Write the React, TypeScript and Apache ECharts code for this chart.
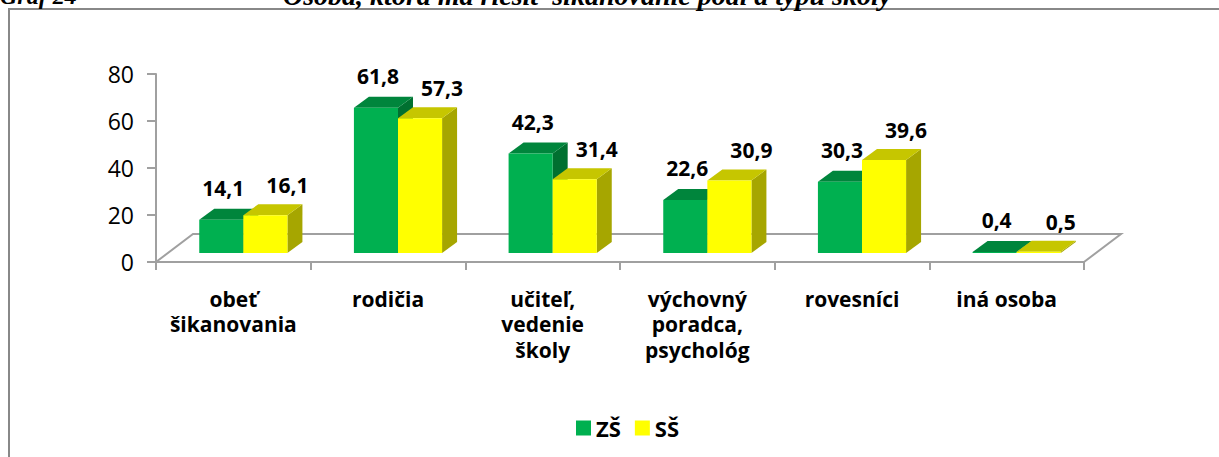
import React, { useEffect, useRef } from "react";
import * as echarts from "echarts";

const categories = [
  "obeť\nšikanovania",
  "rodičia",
  "učiteľ,\nvedenie\nškoly",
  "výchovný\nporadca,\npsychológ",
  "rovesníci",
  "iná osoba",
];
const seriesNames = ["ZŠ", "SŠ"];
const zsValues = [14.1, 61.8, 42.3, 22.6, 30.3, 0.4];
const ssValues = [16.1, 57.3, 31.4, 30.9, 39.6, 0.5];
const yMin = 0;
const yMax = 80;
const yInterval = 20;

const FONT = "'Open Sans', 'Noto Sans', sans-serif";
const GRAY = "#A0A0A0";

const palettes = [
  { front: "#00B050", top: "#00853C", side: "#007030" },
  { front: "#FFFF00", top: "#C6C600", side: "#A6A600" },
];

function makeBarRender(pos: number) {
  const pal = palettes[pos];
  return (params: any, api: any) => {
    const i = api.value(0);
    const v = api.value(1);
    const base = api.coord([i, 0]);
    const top = api.coord([i, v]);
    const bandW = api.size([1, 0])[0];
    const barW = bandW * 0.285;
    const pdx = 10, pdy = -9; // bar plane offset inside floor depth
    const ddx = 15, ddy = -11; // bar depth
    const xl = base[0] + pdx + (pos === 0 ? -barW : 0);
    const xr = xl + barW;
    const yb = base[1] + pdy;
    const yt = top[1] + pdy;
    const label = v.toFixed(1).replace(".", ",");
    return {
      type: "group",
      children: [
        {
          type: "polygon",
          shape: { points: [[xr, yt], [xr + ddx, yt + ddy], [xr + ddx, yb + ddy], [xr, yb]] },
          style: { fill: pal.side },
        },
        {
          type: "polygon",
          shape: { points: [[xl, yt], [xr, yt], [xr + ddx, yt + ddy], [xl + ddx, yt + ddy]] },
          style: { fill: pal.top },
        },
        {
          type: "rect",
          shape: { x: xl, y: yt, width: barW, height: Math.max(yb - yt, 0) },
          style: { fill: pal.front },
        },
        {
          type: "text",
          x: (xl + xr) / 2 + (pos === 0 ? 2 : 22),
          y: yt - (pos === 0 ? 32 : 30),
          style: {
            text: label,
            fontFamily: FONT,
            fontWeight: "bold",
            fontSize: 21,
            fill: "#000",
            align: "center",
            verticalAlign: "middle",
          },
        },
      ],
    };
  };
}

function floorRender(params: any) {
  const cs = params.coordSys;
  const x0 = cs.x;
  const x1 = cs.x + cs.width;
  const y0 = cs.y + cs.height;
  const dx = 37, dy = -28;
  return {
    type: "polyline",
    shape: { points: [[x0, y0], [x0 + dx, y0 + dy], [x1 + dx, y0 + dy], [x1, y0]] },
    style: { stroke: GRAY, lineWidth: 2, fill: "none" },
  };
}

export default function App() {
  const ref = useRef<HTMLDivElement>(null);
  useEffect(() => {
    if (!ref.current) return;
    const chart = echarts.init(ref.current, null, { renderer: "svg" });
    const seriesData = [zsValues, ssValues];
    chart.setOption({
      animation: false,
      backgroundColor: "#fff",
      grid: { left: 156, top: 74, width: 928, height: 188 },
      legend: {
        data: seriesNames,
        left: 571,
        top: 412,
        icon: "rect",
        itemWidth: 15,
        itemHeight: 15,
        itemGap: 14,
        textStyle: { fontFamily: FONT, fontWeight: "bold", fontSize: 22, color: "#000" },
      },
      xAxis: {
        type: "category",
        data: categories,
        boundaryGap: true,
        axisLine: { show: true, lineStyle: { color: GRAY, width: 2 } },
        axisTick: { show: true, interval: 0, length: 8, lineStyle: { color: GRAY, width: 2 } },
        axisLabel: {
          interval: 0,
          margin: 24,
          fontFamily: FONT,
          fontWeight: "bold",
          fontSize: 21,
          lineHeight: 25.5,
          color: "#000",
        },
        splitLine: { show: false },
      },
      yAxis: {
        type: "value",
        min: yMin,
        max: yMax,
        interval: yInterval,
        axisLine: { show: true, lineStyle: { color: GRAY, width: 2 } },
        axisTick: { show: true, length: 9, lineStyle: { color: GRAY, width: 2 } },
        axisLabel: { margin: 22, fontFamily: FONT, fontSize: 23, color: "#000" },
        splitLine: { show: false },
      },
      graphic: [
        {
          type: "rect",
          shape: { x: 9, y: 9, width: 1400, height: 600 },
          style: { fill: "none", stroke: "#888888", lineWidth: 2 },
          silent: true,
        },
        {
          type: "text",
          x: 0,
          y: -4,
          style: {
            text: "Graf 24",
            fontFamily: "'Liberation Serif', serif",
            fontWeight: "bold",
            fontStyle: "italic",
            fontSize: 24,
            fill: "#000",
            verticalAlign: "middle",
          },
        },
        {
          type: "text",
          x: 283,
          y: -5,
          style: {
            text: "Osoba, ktorá má riešiť šikanovanie podľa typu školy",
            fontFamily: "'Liberation Serif', serif",
            fontWeight: "bold",
            fontStyle: "italic",
            fontSize: 28,
            fill: "#000",
            verticalAlign: "middle",
          },
        },
      ],
      series: [
        {
          type: "custom",
          name: "floor",
          renderItem: floorRender,
          data: [[0, 0]],
          silent: true,
          z: 1,
        },
        ...seriesNames.map((name, pos) => ({
          type: "custom",
          name,
          renderItem: makeBarRender(pos),
          data: seriesData[pos].map((v, i) => [i, v]),
          itemStyle: { color: palettes[pos].front },
          encode: { x: 0, y: 1 },
          z: 2 + pos,
        })),
      ],
    });
    return () => chart.dispose();
  }, []);
  return (
    <div
      ref={ref}
      style={{ position: "fixed", left: 0, top: 0, width: 1219, height: 457, background: "#fff" }}
    />
  );
}
